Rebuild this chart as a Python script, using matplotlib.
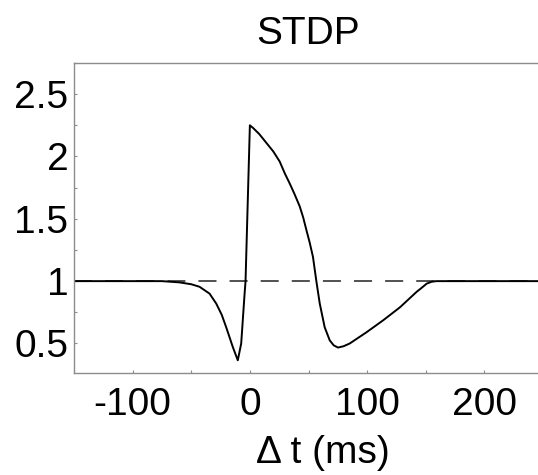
import matplotlib
matplotlib.use("Agg")
import matplotlib.pyplot as plt
from matplotlib.ticker import MultipleLocator

# =======================
# DATA
# =======================
dt_ms = [-150, -100, -75, -60, -50, -43, -34.4, -28.7, -24, -20.2, -14.5,
         -10.3, -7.4, -4.5, -3.7, 0.0, 2.6, 8, 14, 20, 25.4, 30, 33.9, 38,
         42.5, 45.5, 48.2, 51, 53.8, 56.7, 59.6, 63.8, 68.1, 71.5, 75.2,
         80, 85.2, 99.5, 113.7, 128, 142.2, 147, 150.8, 155, 159, 200, 250]
stdp = [1.0, 1.0, 1.0, 0.99, 0.975, 0.955, 0.90, 0.82, 0.73, 0.63, 0.47,
        0.365, 0.50, 0.90, 1.0, 2.25, 2.23, 2.18, 2.11, 2.04, 1.96, 1.86,
        1.785, 1.70, 1.60, 1.51, 1.41, 1.31, 1.195, 1.0, 0.82, 0.63, 0.525,
        0.485, 0.467, 0.478, 0.50, 0.59, 0.686, 0.79, 0.914, 0.95, 0.98,
        0.995, 1.0, 1.0, 1.0]
baseline = 1.0

x_ticks = [-100, 0, 100, 200]
y_ticks = [0.5, 1, 1.5, 2, 2.5]
y_labels = ["0.5", "1", "1.5", "2", "2.5"]

# =======================
# STYLE
# =======================
plt.rcParams["font.family"] = ["Liberation Sans", "DejaVu Sans"]
plt.rcParams["lines.scale_dashes"] = False
plt.rcParams["axes.unicode_minus"] = False
spine_col = "#8c8c8c"

W, H = 538, 475
fig = plt.figure(figsize=(W / 100, H / 100), dpi=100)
ax = fig.add_axes([74 / W, (H - 373) / H, (543 - 74) / W, (373 - 63) / H])

ax.axhline(baseline, color="#222222", lw=1.1, dashes=(13, 9.4), zorder=1)
ax.plot(dt_ms, stdp, color="black", lw=1.4, zorder=2)

ax.set_xlim(-150, 250)
ax.set_ylim(0.263, 2.75)
ax.set_xticks(x_ticks)
ax.set_yticks(y_ticks)
ax.set_yticklabels(y_labels)
ax.xaxis.set_minor_locator(MultipleLocator(50))
ax.yaxis.set_minor_locator(MultipleLocator(0.25))
ax.tick_params(which="both", direction="in", length=2.5, width=0.8,
               color=spine_col, labelsize=28)
ax.tick_params(axis="x", pad=10)
ax.tick_params(axis="y", pad=4)

for side in ["left", "bottom", "top"]:
    ax.spines[side].set_color(spine_col)
    ax.spines[side].set_linewidth(1.0)
ax.spines["right"].set_visible(False)

ax.set_title("STDP", fontsize=28, pad=14)
ax.set_xlabel("\u0394 t (ms)", fontsize=28, labelpad=0)
ax.xaxis.set_label_coords((323 - 74) / (543 - 74), -0.2)

fig.savefig("out.png", dpi=100)
